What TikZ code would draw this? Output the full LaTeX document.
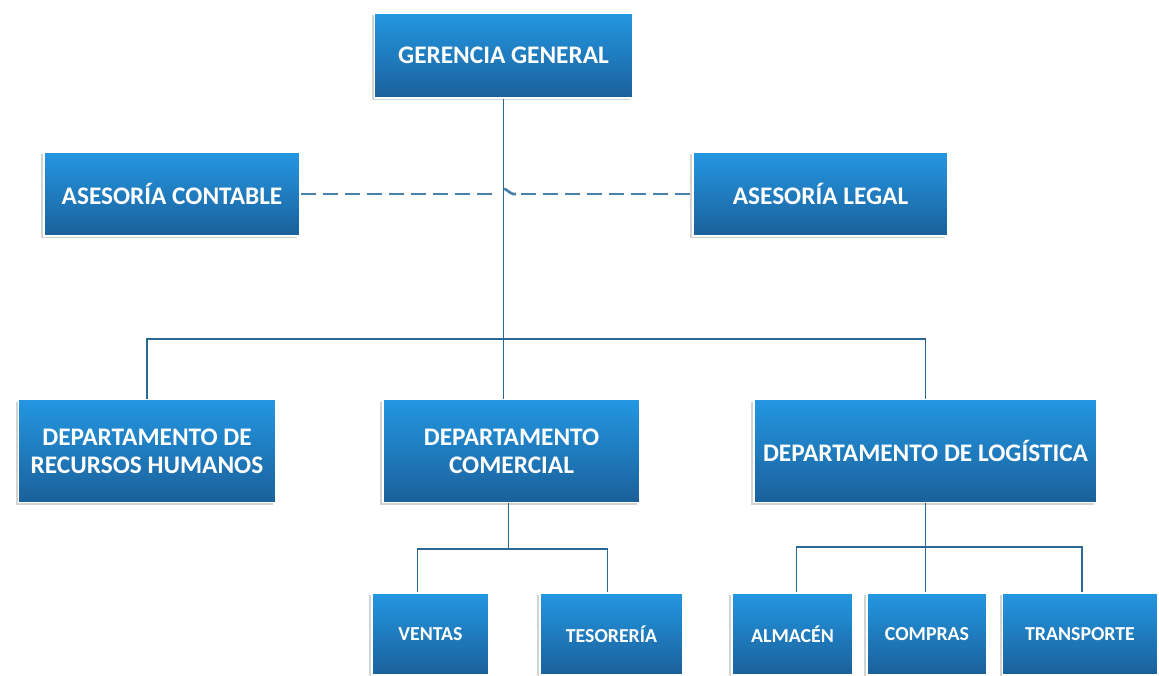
\documentclass[tikz,border=0pt]{standalone}
\usepackage{fontspec}
\setmainfont{Carlito}
\usetikzlibrary{shadows}
\definecolor{cajaArriba}{RGB}{35,151,226}
\definecolor{cajaAbajo}{RGB}{27,96,154}
\definecolor{linea}{RGB}{44,104,148}
\definecolor{lineaDash}{RGB}{72,130,172}
\tikzset{
caja/.style={rectangle, draw=white, line width=1.6pt, top color=cajaArriba, bottom color=cajaAbajo,
  text=white, font=\bfseries\fontsize{25.3}{28}\selectfont, align=center, inner sep=0pt,
  drop shadow={shadow xshift=-3pt, shadow yshift=-2pt, opacity=0.35, fill=gray}},
area/.style={caja, minimum height=82pt, font=\bfseries\fontsize{19.8}{24}\selectfont},
enlace/.style={draw=linea, line width=1.8pt},
}

\begin{document}
\begin{tikzpicture}[x=1pt,y=-1pt]
\useasboundingbox (0,0) rectangle (1159,675);
\clip (0,0) rectangle (1159,675);

%Nivel: gerencia
\node[caja, minimum width=258pt, minimum height=85pt] (gerencia) at (503.5,55.5) {GERENCIA GENERAL};
%Nivel: asesorias
\node[caja, minimum width=256pt, minimum height=84pt] (contable) at (172,194) {ASESORÍA CONTABLE};
\node[caja, minimum width=255pt, minimum height=84pt] (legal) at (820.5,194) {ASESORÍA LEGAL};
%Nivel: departamentos
\node[caja, minimum width=257pt, minimum height=103pt] (rrhh) at (147,451) {DEPARTAMENTO DE\\RECURSOS HUMANOS};
\node[caja, minimum width=257pt, minimum height=103pt] (comercial) at (511.5,451) {DEPARTAMENTO\\COMERCIAL};
\node[caja, minimum width=343pt, minimum height=103pt] (logistica) at (925.5,451) {DEPARTAMENTO DE LOGÍSTICA};
%Nivel: areas
\node[area, minimum width=117pt] (ventas) at (430.5,634) {VENTAS};
\node[area, minimum width=143pt] (tesoreria) at (611.5,634) {TESORERÍA};
\node[area, minimum width=121pt] (almacen) at (792.5,634) {ALMACÉN};
\node[area, minimum width=120pt] (compras) at (927,634) {COMPRAS};
\node[area, minimum width=155pt] (transporte) at (1080,634) {TRANSPORTE};

%Conector: asesorias (con salto)
\draw[draw=lineaDash, line width=2.6pt, dash pattern=on 15pt off 7pt] (contable.east) -- (legal.west);
\fill[white] (498,189) rectangle (515,199);
\draw[draw=lineaDash, line width=2.6pt] (503,189) .. controls (506,188) and (509,193) .. (513,194) -- (516,194);

%Conector: gerencia a departamentos
\draw[enlace] (gerencia.south) -- (gerencia.south |- comercial.north);
\draw[enlace] (rrhh.north) -- ++(0,-60) -| (logistica.north);

%Conector: comercial
\draw[enlace] ([xshift=-3pt]comercial.south) -- ++(0,46) coordinate (nudoCom);
\draw[enlace] ([xshift=-13pt]ventas.north) |- (nudoCom) -| ([xshift=-4pt]tesoreria.north);

%Conector: logistica
\draw[enlace] (logistica.south) -- (logistica.south |- compras.north);
\draw[enlace] ([xshift=4pt]almacen.north) -- ++(0,-45) -| ([xshift=2pt]transporte.north);

\end{tikzpicture}
\end{document}
